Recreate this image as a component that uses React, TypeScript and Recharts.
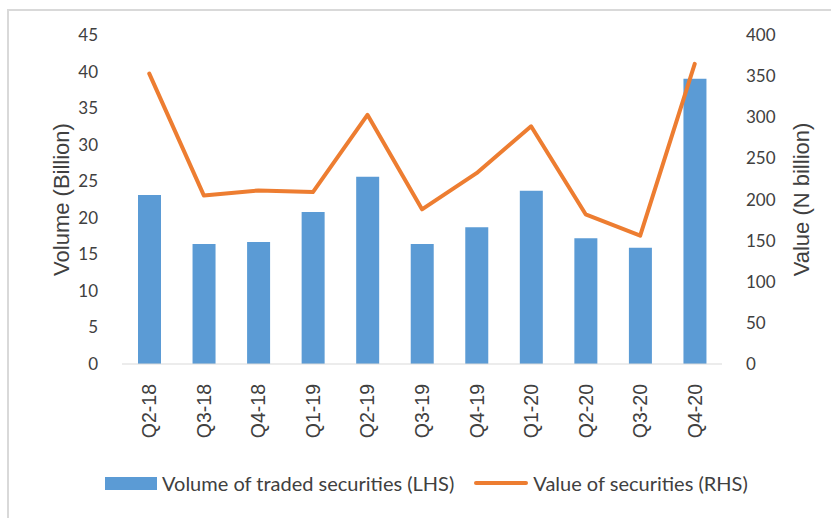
import React from "react";
import {
  ComposedChart,
  Bar,
  Line,
  XAxis,
  YAxis,
  Legend,
} from "recharts";

const quarters = ["Q2-18", "Q3-18", "Q4-18", "Q1-19", "Q2-19", "Q3-19", "Q4-19", "Q1-20", "Q2-20", "Q3-20", "Q4-20"];
const volume = [23.1, 16.4, 16.7, 20.8, 25.6, 16.4, 18.7, 23.7, 17.2, 15.9, 39.0];
const value = [353, 205, 211, 209, 303, 188, 232, 289, 182, 156, 365];
const leftTicks = [0, 5, 10, 15, 20, 25, 30, 35, 40, 45];
const rightTicks = [0, 50, 100, 150, 200, 250, 300, 350, 400];

const BLUE = "#5B9BD5";
const ORANGE = "#ED7D31";
const TEXT = "#404040";
const FONT = "Lato, 'Open Sans', sans-serif";
const ARIAL = "'Liberation Sans', Arial, sans-serif";

const data = quarters.map((q, i) => ({ q, volume: volume[i], value: value[i] }));

const CatTick = (props: any) => {
  const { x, y, payload } = props;
  return (
    <text
      x={x}
      y={y}
      transform={`rotate(-90, ${x}, ${y})`}
      textAnchor="end"
      dominantBaseline="central"
      fill={TEXT}
      fontSize={19.5}
      fontFamily={ARIAL}
    >
      {payload.value}
    </text>
  );
};

const LegendBox = () => (
  <div
    style={{
      display: "flex",
      alignItems: "center",
      justifyContent: "flex-start",
      fontFamily: FONT,
      fontSize: 20,
      color: TEXT,
      paddingLeft: 105,
      height: 28,
      whiteSpace: "nowrap",
    }}
  >
    <span style={{ display: "inline-block", width: 52, height: 13, background: BLUE, marginRight: 5 }} />
    <span>Volume of traded securities (LHS)</span>
    <span
      style={{
        display: "inline-block",
        width: 54,
        height: 4,
        borderRadius: 2,
        background: ORANGE,
        marginLeft: 20,
        marginRight: 5,
      }}
    />
    <span>Value of securities (RHS)</span>
  </div>
);

export default function App() {
  return (
    <div style={{ position: "absolute", left: 0, top: 0, width: 831, height: 518, background: "#fff", overflow: "hidden" }}>
      <div
        style={{
          position: "absolute",
          left: 7,
          top: 9,
          width: 830,
          height: 520,
          borderLeft: "2px solid #D9D9D9",
          borderTop: "2px solid #D9D9D9",
        }}
      />
      <ComposedChart
        width={831}
        height={518}
        data={data}
        margin={{ top: 35, right: 0, bottom: 0, left: 0 }}
        barCategoryGap="29%"
      >
        <XAxis
          dataKey="q"
          interval={0}
          height={126}
          tickLine={false}
          axisLine={{ stroke: "#D9D9D9", strokeWidth: 1 }}
          tick={<CatTick />}
          tickMargin={14}
        />
        <YAxis
          yAxisId="left"
          width={122}
          domain={[0, 45]}
          ticks={leftTicks}
          interval={0}
          axisLine={false}
          tickLine={false}
          tickMargin={18}
          tick={{ fill: TEXT, fontSize: 17, fontFamily: FONT }}
          label={{
            value: "Volume (Billion)",
            angle: -90,
            position: "insideLeft",
            offset: 61,
            style: { textAnchor: "middle", fill: TEXT, fontSize: 22, fontFamily: ARIAL },
          }}
        />
        <YAxis
          yAxisId="right"
          orientation="right"
          width={109}
          domain={[0, 400]}
          ticks={rightTicks}
          interval={0}
          axisLine={false}
          tickLine={false}
          tickMargin={18}
          tick={{ fill: TEXT, fontSize: 17, fontFamily: FONT, textAnchor: "start" }}
          label={{
            value: "Value (N billion)",
            angle: -90,
            position: "insideRight",
            offset: 30,
            style: { textAnchor: "middle", fill: TEXT, fontSize: 22, fontFamily: ARIAL },
          }}
        />
        <Bar yAxisId="left" dataKey="volume" fill={BLUE} barSize={23} isAnimationActive={false} />
        <Line
          yAxisId="right"
          dataKey="value"
          stroke={ORANGE}
          strokeWidth={4}
          dot={false}
          strokeLinejoin="round"
          strokeLinecap="round"
          isAnimationActive={false}
        />
        <Legend
          verticalAlign="bottom"
          height={28}
          content={<LegendBox />}
          wrapperStyle={{ top: 469, left: 0, width: 831 }}
        />
      </ComposedChart>
    </div>
  );
}
